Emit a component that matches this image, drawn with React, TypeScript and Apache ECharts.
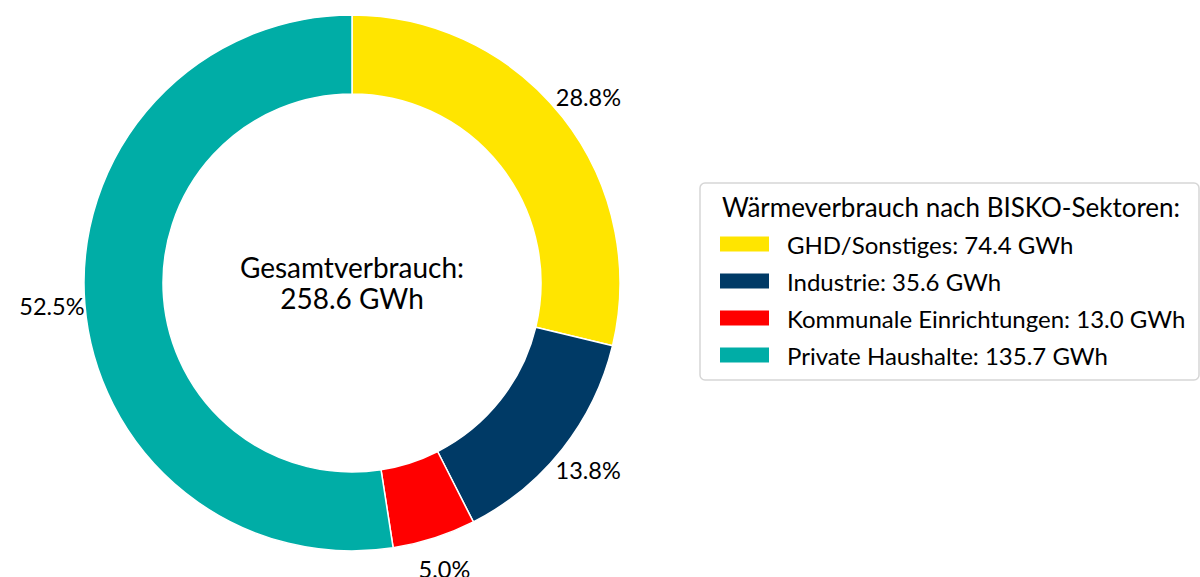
import React, { useEffect, useRef } from "react";
import * as echarts from "echarts";

const categories = ["GHD/Sonstiges", "Industrie", "Kommunale Einrichtungen", "Private Haushalte"];
const values = [74.4, 35.6, 13.0, 135.7];
const colors = ["#FFE500", "#003A66", "#FF0000", "#00ADA6"];
const totalValue = 258.6;
const legendTitle = "Wärmeverbrauch nach BISKO-Sektoren:";
const centerLabel = "Gesamtverbrauch:";
const unit = "GWh";

const FONT = "Lato, 'Noto Sans', sans-serif";

export default function App() {
  const ref = useRef<HTMLDivElement>(null);
  useEffect(() => {
    document.body.style.margin = "0";
    const chart = echarts.init(ref.current!, null, { renderer: "svg" });
    const data = categories.map((c, i) => ({ name: c, value: values[i], itemStyle: { color: colors[i] } }));
    const valueMap: Record<string, number> = {};
    categories.forEach((c, i) => (valueMap[c] = values[i]));
    chart.setOption({
      animation: false,
      backgroundColor: "#ffffff",
      textStyle: { fontFamily: FONT },
      graphic: [
        {
          type: "rect",
          shape: { x: 700, y: 183, width: 499, height: 197, r: 5 },
          style: { fill: "#ffffff", stroke: "#d6d6d6", lineWidth: 1.5 },
          z: -1,
        },
        {
          type: "text",
          x: 951,
          y: 207,
          style: {
            text: legendTitle,
            fontSize: 26,
            fontFamily: FONT,
            fill: "#000",
            align: "center",
            verticalAlign: "middle",
          },
        },
        {
          type: "text",
          x: 352,
          y: 282,
          style: {
            text: centerLabel + "\n" + totalValue.toFixed(1) + " " + unit,
            fontSize: 28,
            lineHeight: 31,
            fontFamily: FONT,
            fill: "#000",
            align: "center",
            verticalAlign: "middle",
          },
        },
      ],
      legend: {
        orient: "vertical",
        left: 713,
        top: 227,
        itemWidth: 51,
        itemHeight: 17,
        itemGap: 13,
        icon: "rect",
        data: categories,
        selectedMode: false,
        formatter: (name: string) => `${name}: ${valueMap[name].toFixed(1)} ${unit}`,
        textStyle: { fontSize: 24, fontFamily: FONT, color: "#000", padding: [0, 0, 0, 12] },
      },
      series: [
        {
          type: "pie",
          center: [352, 283],
          radius: [189, 268],
          startAngle: 90,
          clockwise: true,
          label: { show: false },
          labelLine: { show: false },
          itemStyle: { borderColor: "#ffffff", borderWidth: 1.5 },
          emphasis: { disabled: true },
          data,
        },
        {
          type: "pie",
          center: [352, 283],
          radius: [278, 318],
          startAngle: 90,
          clockwise: true,
          silent: true,
          percentPrecision: 4,
          itemStyle: { color: "rgba(0,0,0,0)", borderWidth: 0 },
          label: {
            show: true,
            position: "inside",
            formatter: (p: any) => `${Number(p.percent).toFixed(1)}%`,
            fontSize: 23.5,
            fontFamily: FONT,
            color: "#000",
          },
          labelLine: { show: false },
          emphasis: { disabled: true },
          data: categories.map((c, i) => ({ name: c, value: values[i] })),
        },
      ],
    });
    return () => chart.dispose();
  }, []);
  return <div ref={ref} style={{ width: 1200, height: 577 }} />;
}
